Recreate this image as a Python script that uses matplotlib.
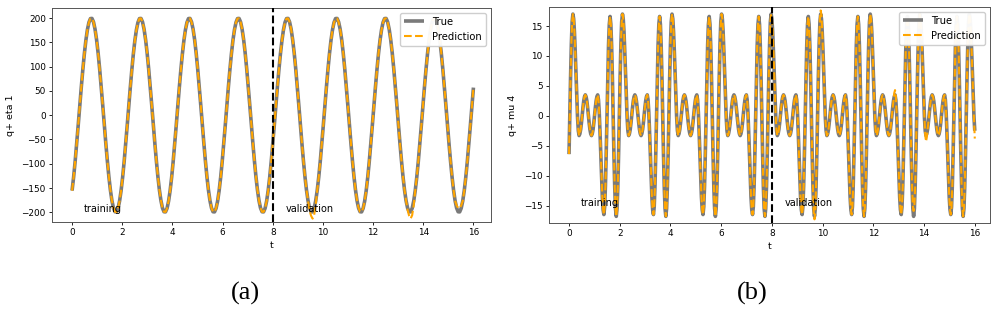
import numpy as np
import matplotlib
matplotlib.use("Agg")
import matplotlib.pyplot as plt

# ---------------- data ----------------
xticks = [0, 2, 4, 6, 8, 10, 12, 14, 16]
yticks_a = [-200, -150, -100, -50, 0, 50, 100, 150, 200]
yticks_b = [-15, -10, -5, 0, 5, 10, 15]
t_split = 8

# panel (a): q+ eta 1, sampled on a uniform grid from t=0 to t=16
true_a = [
    -155.4, -127.9, -95.4, -59.3, -20.9, 18.3, 56.8, 93.1, 125.9, 153.8, 175.8, 191.0, 198.9, 199.2, 191.8, 177.0,
    155.4, 127.9, 95.4, 59.3, 20.9, -18.3, -56.8, -93.1, -125.9, -153.8, -175.8, -191.0, -198.9, -199.2, -191.8, -177.0,
    -155.4, -127.9, -95.4, -59.3, -20.9, 18.3, 56.8, 93.1, 125.9, 153.8, 175.8, 191.0, 198.9, 199.2, 191.8, 177.0,
    155.4, 127.9, 95.4, 59.3, 20.9, -18.3, -56.8, -93.1, -125.9, -153.8, -175.8, -191.0, -198.9, -199.2, -191.8, -177.0,
    -155.4, -127.9, -95.4, -59.3, -20.9, 18.3, 56.8, 93.1, 125.9, 153.8, 175.8, 191.0, 198.9, 199.2, 191.8, 177.0,
    155.4, 127.9, 95.4, 59.3, 20.9, -18.3, -56.8, -93.1, -125.9, -153.8, -175.8, -191.0, -198.9, -199.2, -191.8, -177.0,
    -155.4, -127.9, -95.4, -59.3, -20.9, 18.3, 56.8, 93.1, 125.9, 153.8, 175.8, 191.0, 198.9, 199.2, 191.8, 177.0,
    155.4, 127.9, 95.4, 59.3, 20.9, -18.3, -56.8, -93.1, -125.9, -153.8, -175.8, -191.0, -198.9, -199.2, -191.8, -177.0,
    -155.4, -127.9, -95.4, -59.3, -20.9, 18.3, 56.8, 93.1, 125.9, 153.8, 175.8, 191.0, 198.9, 199.2, 191.8, 177.0,
    155.4, 127.9, 95.4, 59.3, 20.9, -18.3, -56.8, -93.1, -125.9, -153.8, -175.8, -191.0, -198.9, -199.2, -191.8, -177.0,
    -155.4, -127.9, -95.4, -59.3, -20.9, 18.3, 56.8, 93.1, 125.9, 153.8, 175.8, 191.0, 198.9, 199.2, 191.8, 177.0,
    155.4, 127.9, 95.4, 59.3, 20.9, -18.3, -56.8, -93.1, -125.9, -153.8, -175.8, -191.0, -198.9, -199.2, -191.8, -177.0,
    -155.4, -127.9, -95.4, -59.3, -20.9, 18.3, 56.8, 93.1, 125.9, 153.8, 175.8, 191.0, 198.9, 199.2, 191.8, 177.0,
    155.4, 127.9, 95.4, 59.3, 20.9, -18.3, -56.8, -93.1, -125.9, -153.8, -175.8, -191.0, -198.9, -199.2, -191.8, -177.0,
    -155.4, -127.9, -95.4, -59.3, -20.9, 18.3, 56.8, 93.1, 125.9, 153.8, 175.8, 191.0, 198.9, 199.2, 191.8, 177.0,
    155.4, 127.9, 95.4, 59.3, 20.9, -18.3, -56.8, -93.1, -125.9, -153.8, -175.8, -191.0, -198.9, -199.2, -191.8, -177.0,
    -155.4, -127.9, -95.4, -59.3, -20.9, 18.3, 56.8,
]
# prediction equals the true curve except at these sample indices
pred_a_fix = {155: -196.0, 156: -207.0, 157: -213.0, 158: -206.0, 159: -186.0,
              219: -195.0, 220: -207.0, 221: -213.0, 222: -206.0, 223: -186.0,
              251: -186.0, 252: -191.0, 253: -192.0, 254: -186.0}

# panel (b): q+ mu 4, sampled on a uniform grid from t=0 to t=16
true_b = [
    -6.4, 0.1, 6.6, 12.0, 15.7,
    17.0, 16.2, 14.0, 10.7, 6.9, 3.0, -0.3, -2.5, -3.3, -3.0, -2.3, -1.2, 0.1, 1.4, 2.5, 3.2, 3.5, 3.2, 2.5, 1.4, 0.1, -1.2, -2.3, -3.0, -3.3, -3.0, -2.3, -1.2, 0.1, 1.4, 2.5, 3.2,
    3.5, 2.7, 0.6, -2.7, -6.5, -10.3, -13.6, -15.7, -16.5, -15.2, -11.7, -6.3, 0.0, 6.4, 11.8, 15.3, 16.6, 15.3, 11.7, 6.3, -0.1, -6.5, -11.9, -15.5, -16.8, -15.5, -11.9, -6.4, 0.1, 6.6, 12.0, 15.7,
    17.0, 16.2, 14.0, 10.7, 6.9, 3.0, -0.3, -2.5, -3.3, -3.0, -2.3, -1.2, 0.1, 1.4, 2.5, 3.2, 3.5, 3.2, 2.5, 1.4, 0.1, -1.2, -2.3, -3.0, -3.3, -3.0, -2.3, -1.2, 0.1, 1.4, 2.5, 3.2,
    3.5, 2.7, 0.6, -2.7, -6.5, -10.3, -13.6, -15.7, -16.5, -15.2, -11.7, -6.3, 0.0, 6.4, 11.8, 15.3, 16.6, 15.3, 11.7, 6.3, -0.1, -6.5, -11.9, -15.5, -16.8, -15.5, -11.9, -6.4, 0.1, 6.6, 12.0, 15.7,
    17.0, 16.2, 14.0, 10.7, 6.9, 3.0, -0.3, -2.5, -3.3, -3.0, -2.3, -1.2, 0.1, 1.4, 2.5, 3.2, 3.5, 3.2, 2.5, 1.4, 0.1, -1.2, -2.3, -3.0, -3.3, -3.0, -2.3, -1.2, 0.1, 1.4, 2.5, 3.2,
    3.5, 2.7, 0.6, -2.7, -6.5, -10.3, -13.6, -15.7, -16.5, -15.2, -11.7, -6.3, 0.0, 6.4, 11.8, 15.3, 16.6, 15.3, 11.7, 6.3, -0.1, -6.5, -11.9, -15.5, -16.8, -15.5, -11.9, -6.4, 0.1, 6.6, 12.0, 15.7,
    17.0, 16.2, 14.0, 10.7, 6.9, 3.0, -0.3, -2.5, -3.3, -3.0, -2.3, -1.2, 0.1, 1.4, 2.5, 3.2, 3.5, 3.2, 2.5, 1.4, 0.1, -1.2, -2.3, -3.0, -3.3, -3.0, -2.3, -1.2, 0.1, 1.4, 2.5, 3.2,
    3.5, 2.7, 0.6, -2.7, -6.5, -10.3, -13.6, -15.7, -16.5, -15.2, -11.7, -6.3, 0.0, 6.4, 11.8, 15.3, 16.6, 15.3, 11.7, 6.3, -0.1, -6.5, -11.9, -15.5, -16.8, -15.5, -11.9, -6.4, 0.1, 6.6, 12.0, 15.7,
    17.0, 16.2, 14.0, 10.7, 6.9, 3.0, -0.3, -2.5, -3.3, -3.0, -2.3, -1.2, 0.1, 1.4, 2.5, 3.2, 3.5, 3.2, 2.5, 1.4, 0.1, -1.2, -2.3, -3.0, -3.3, -3.0, -2.3, -1.2, 0.1, 1.4, 2.5, 3.2,
    3.5, 2.7, 0.6, -2.7, -6.5, -10.3, -13.6, -15.7, -16.5, -15.2, -11.7, -6.3, 0.0, 6.4, 11.8, 15.3, 16.6, 15.3, 11.7, 6.3, -0.1, -6.5, -11.9, -15.5, -16.8, -15.5, -11.9, -6.4, 0.1, 6.6, 12.0, 15.7,
    17.0, 16.2, 14.0, 10.7, 6.9, 3.0, -0.3, -2.5, -3.3, -3.0, -2.3, -1.2, 0.1, 1.4, 2.5, 3.2, 3.5, 3.2, 2.5, 1.4, 0.1, -1.2, -2.3, -3.0, -3.3, -3.0, -2.3, -1.2, 0.1, 1.4, 2.5, 3.2,
    3.5, 2.7, 0.6, -2.7, -6.5, -10.3, -13.6, -15.7, -16.5, -15.2, -11.7, -6.3, 0.0, 6.4, 11.8, 15.3, 16.6, 15.3, 11.7, 6.3, -0.1, -6.5, -11.9, -15.5, -16.8, -15.5, -11.9, -6.4, 0.1, 6.6, 12.0, 15.7,
    17.0, 16.2, 14.0, 10.7, 6.9, 3.0, -0.3, -2.5, -3.3, -3.0, -2.3, -1.2, 0.1, 1.4, 2.5, 3.2, 3.5, 3.2, 2.5, 1.4, 0.1, -1.2, -2.3, -3.0, -3.3, -3.0, -2.3, -1.2, 0.1, 1.4, 2.5, 3.2,
    3.5, 2.7, 0.6, -2.7, -6.5, -10.3, -13.6, -15.7, -16.5, -15.2, -11.7, -6.3, 0.0, 6.4, 11.8, 15.3, 16.6, 15.3, 11.7, 6.3, -0.1, -6.5, -11.9, -15.5, -16.8, -15.5, -11.9, -6.4, 0.1, 6.6, 12.0, 15.7,
    17.0, 16.2, 14.0, 10.7, 6.9, 3.0, -0.3, -2.5, -3.3, -3.0, -2.3, -1.2, 0.1, 1.4, 2.5, 3.2, 3.5, 3.2, 2.5, 1.4, 0.1, -1.2, -2.3, -3.0, -3.3, -3.0, -2.3, -1.2, 0.1, 1.4, 2.5, 3.2,
    3.5, 2.7, 0.6, -2.7, -6.5, -10.3, -13.6, -15.7, -16.5, -15.2, -11.7, -6.3, 0.0, 6.4, 11.8, 15.3, 16.6, 15.3, 11.7, 6.3, -0.1, -6.5, -11.9, -15.5, -16.8, -15.5, -11.9, -6.4, 0.1, 6.6, 12.0, 15.7,
    17.0, 16.2, 14.0, 10.7, 6.9, 3.0, -0.3, -2.5,
]
pred_b_fix = {316: -16.0, 317: -17.3, 318: -16.0, 324: 16.2, 325: 17.6, 326: 16.8,
              420: 3.8, 421: 4.3, 422: 3.4, 444: -15.0, 445: -15.9, 446: -15.0,
              460: -3.2, 461: -4.3, 462: -3.6, 523: -0.6, 524: -3.8}

# ---------------- figure ----------------
plt.rcParams['font.family'] = ['DejaVu Sans']
fig = plt.figure(figsize=(10, 3.14), dpi=100)

ax_a = fig.add_axes([0.052, 0.293, 0.439, 0.682])
ax_b = fig.add_axes([0.549, 0.290, 0.441, 0.688])

TICK_FS = 6.4
LABEL_FS = 6.8
TEXT_FS = 7.0
LEG_FS = 7.2


def draw(ax, true_vals, fixes, ylabel, yticks, xlim, ylim, txt_y):
    y_true = np.array(true_vals, dtype=float)
    y_pred = y_true.copy()
    for i, v in fixes.items():
        y_pred[i] = v
    t = np.linspace(0, 16, len(y_true))
    ax.plot(t, y_true, color='#7a7a7a', lw=2.6, label='True', solid_capstyle='butt')
    ax.plot(t, y_pred, color='orange', lw=1.5, ls='--', label='Prediction')
    ax.axvline(t_split, color='black', lw=1.5, ls='--', zorder=5)
    ax.set_xlim(*xlim)
    ax.set_ylim(*ylim)
    ax.set_xticks(xticks)
    ax.set_yticks(yticks)
    ax.tick_params(labelsize=TICK_FS, length=2.5, width=0.6, pad=2)
    ax.set_xlabel('t', fontsize=LABEL_FS, labelpad=3)
    ax.set_ylabel(ylabel, fontsize=LABEL_FS, labelpad=5)
    for s in ax.spines.values():
        s.set_linewidth(0.7)
        s.set_color('#555555')
    ax.text(0.45, txt_y, 'training', fontsize=TEXT_FS)
    ax.text(8.5, txt_y, 'validation', fontsize=TEXT_FS)
    leg = ax.legend(loc='upper right', fontsize=LEG_FS, handlelength=2.0,
                    borderaxespad=0.5, framealpha=0.95)
    leg.set_zorder(10)


draw(ax_a, true_a, pred_a_fix, 'q+ eta 1', yticks_a, (-0.8, 16.7), (-220, 221), -200)
draw(ax_b, true_b, pred_b_fix, 'q+ mu 4', yticks_b, (-0.79, 16.6), (-17.9, 18.2), -15)

fig.text(0.245, 0.067, '(a)', family='Liberation Serif', fontsize=19, ha='center', va='center')
fig.text(0.752, 0.067, '(b)', family='Liberation Serif', fontsize=19, ha='center', va='center')

fig.savefig('out.png', dpi=100)
